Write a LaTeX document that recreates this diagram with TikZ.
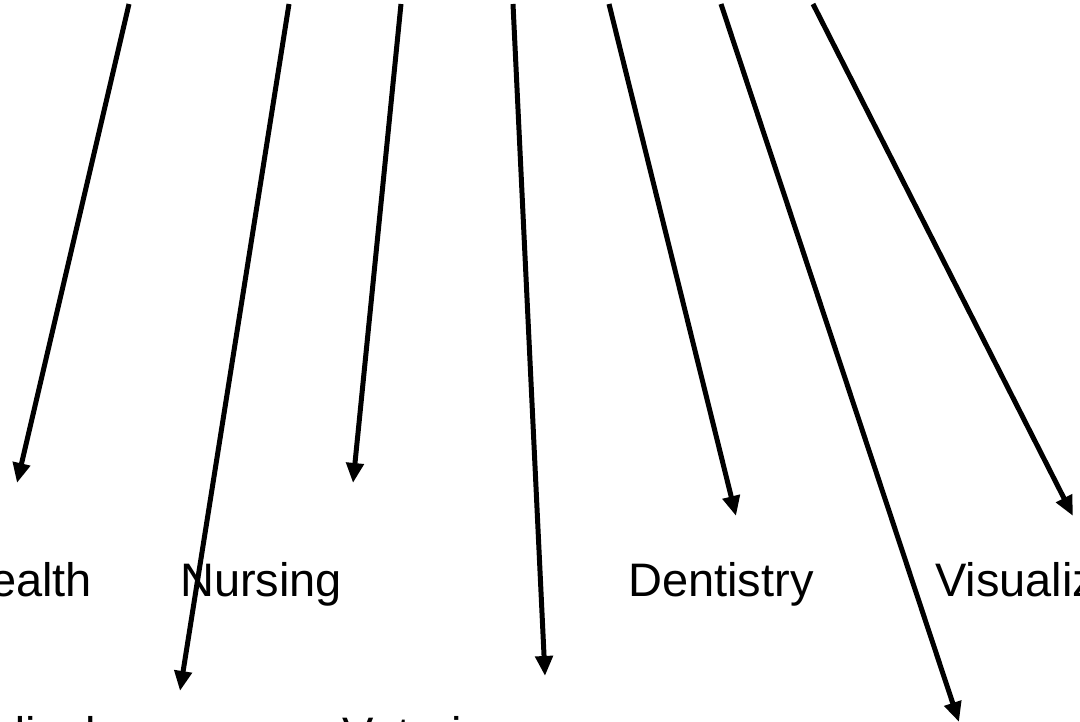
\documentclass[tikz,border=0pt]{standalone}
\usepackage{fontspec}
\setmainfont{Liberation Sans}
\usetikzlibrary{arrows.meta}
\tikzset{
  lbl/.style={anchor=base west, inner sep=0pt, font=\fontsize{47}{56}\selectfont},
  ray/.style={line width=5pt, -{Triangle[length=20pt,width=17pt]}},
}
\begin{document}
\begin{tikzpicture}[x=1pt,y=-1pt]
  \useasboundingbox[fill=white] (0,0) rectangle (1080,722);
  \begin{scope}
    \clip (0,0) rectangle (1080,722);
    % field labels
    \node[lbl] (health) at (-44,596) {Health};
    \node[lbl] (nursing) at (180,596) {Nursing};
    \node[lbl] (dentistry) at (628,596) {Dentistry};
    \node[lbl] (visual) at (935,596) {Visualization};
    \node[lbl] (medical) at (-66,750) {Medical};
    \node[lbl] (veterinary) at (342,750) {Veterinary};
    % origins of the rays along the top edge
    \coordinate (s1) at (129,4);
    \coordinate (s2) at (289,4);
    \coordinate (s3) at (401,4);
    \coordinate (s4) at (513,4);
    \coordinate (s5) at (609,4);
    \coordinate (s6) at (721,4);
    \coordinate (s7) at (813,4);
    % arrow tips
    \coordinate (e1) at (17,483);
    \coordinate (e2) at (180,691);
    \coordinate (e3) at (353,483);
    \coordinate (e4) at (545,676);
    \coordinate (e5) at (736,516);
    \coordinate (e6) at (959,722);
    \coordinate (e7) at (1073,516);
    \foreach \i in {1,...,7} {
      \draw[ray] (s\i) -- (e\i);
    }
  \end{scope}
\end{tikzpicture}
\end{document}
